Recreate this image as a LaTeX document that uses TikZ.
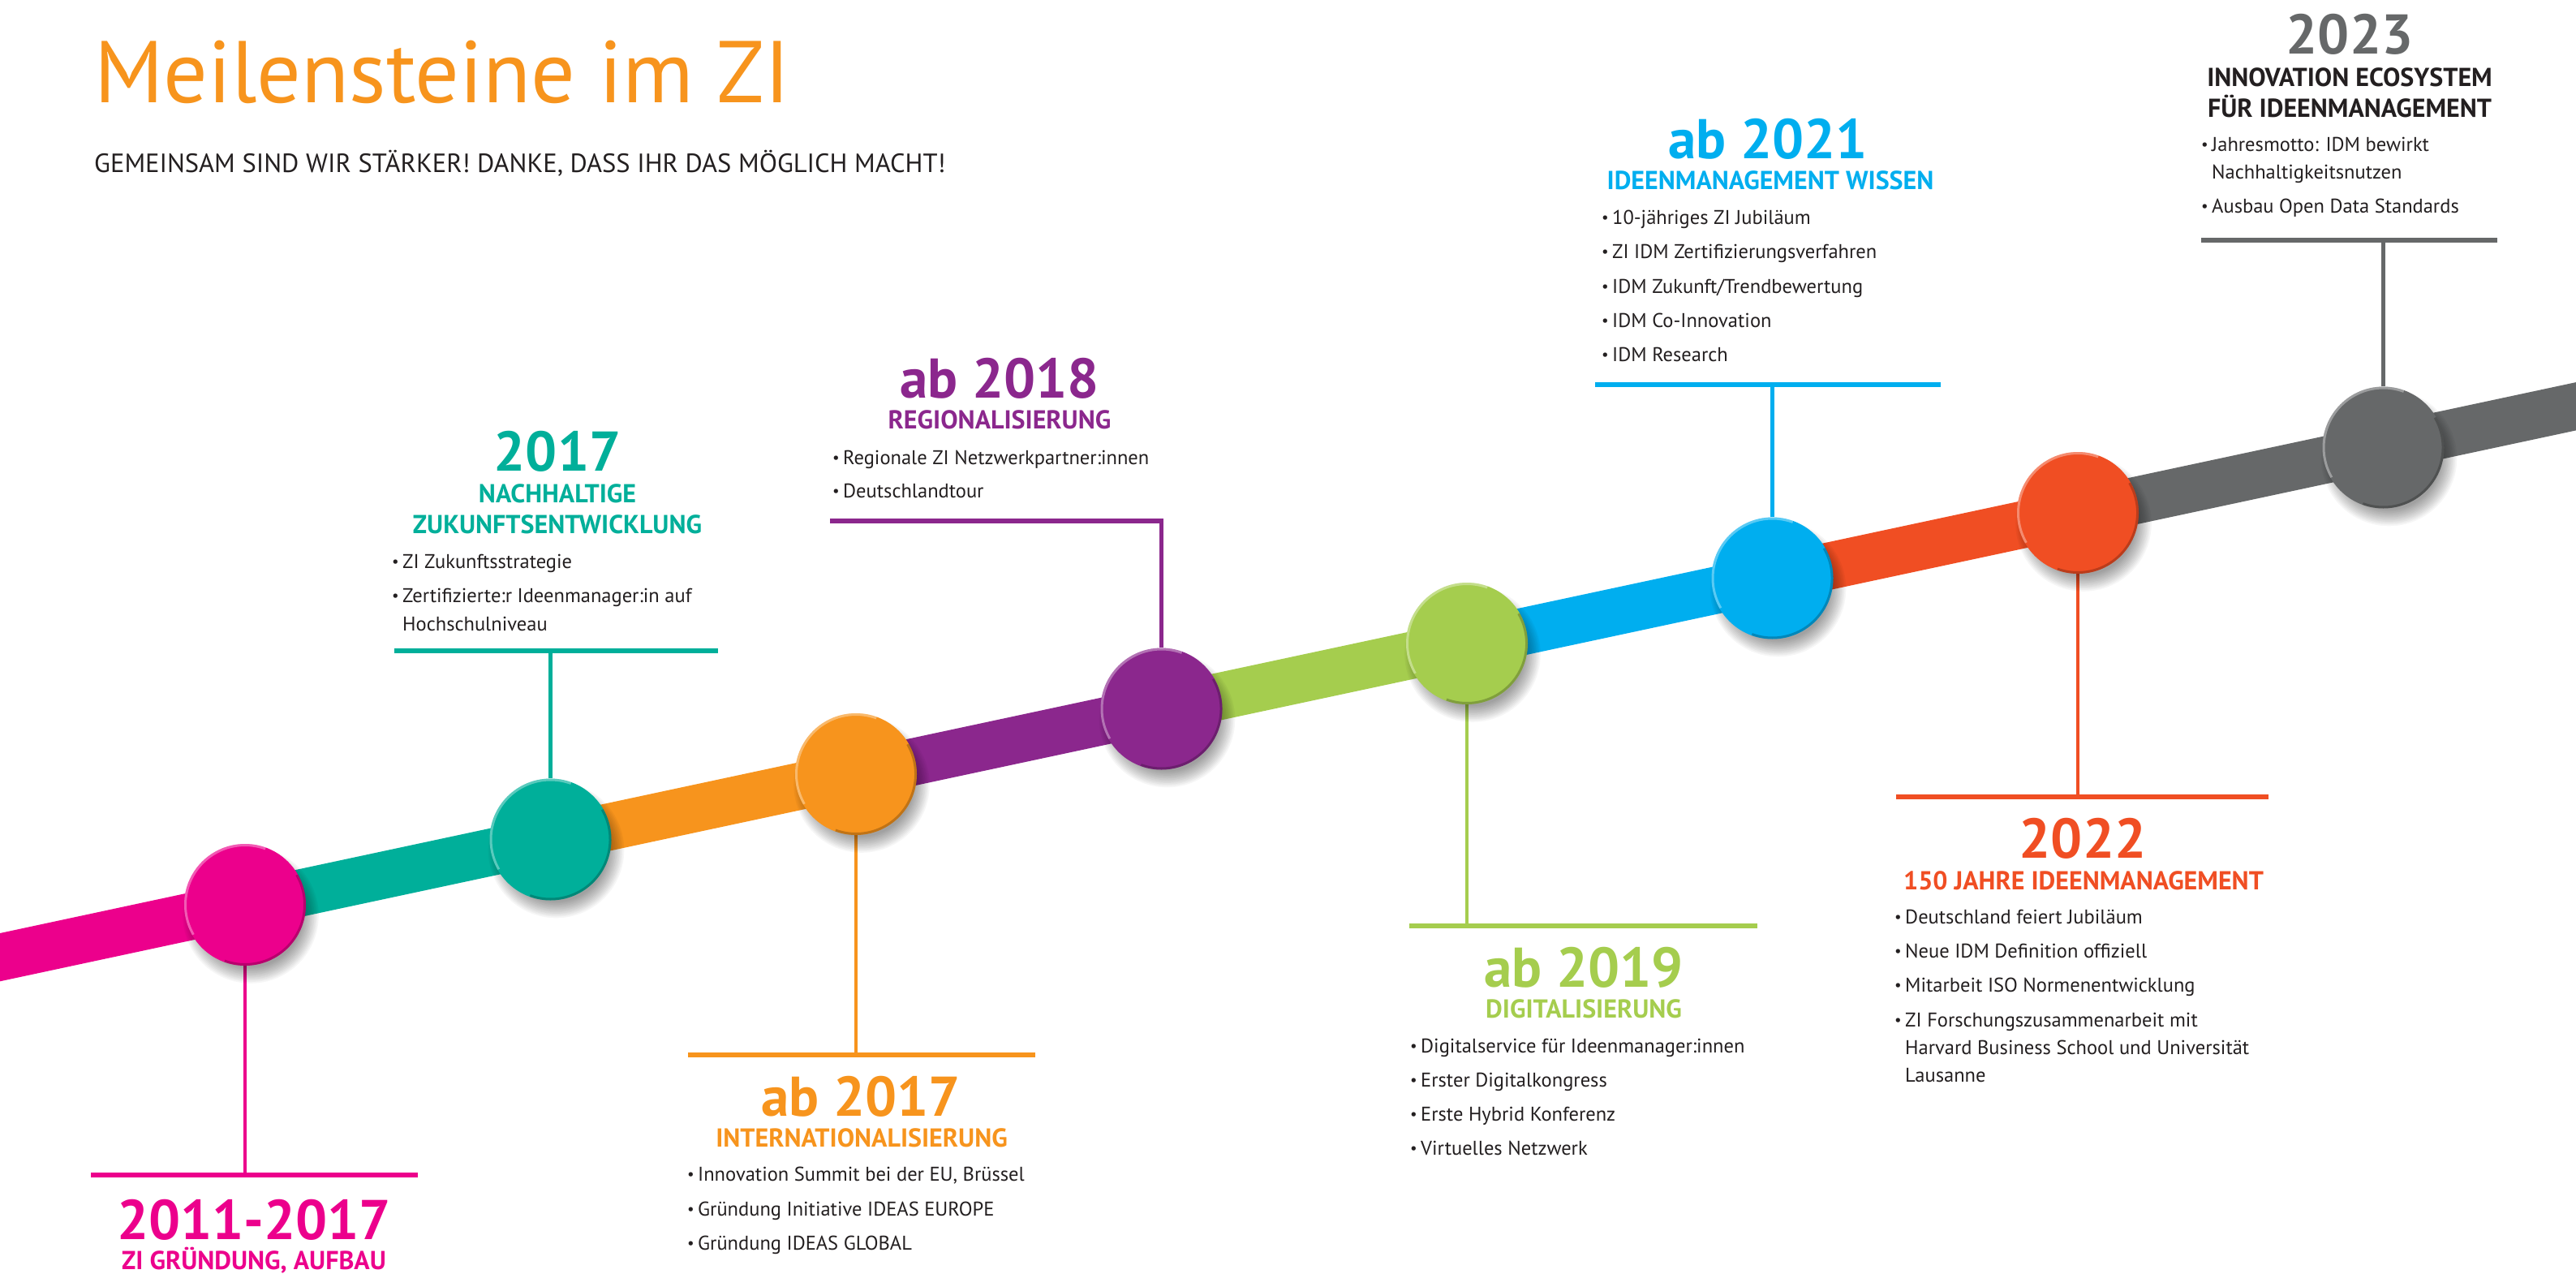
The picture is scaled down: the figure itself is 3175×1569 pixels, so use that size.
\documentclass[tikz,border=0pt]{standalone}
\usepackage{fontspec}
\setmainfont{PT Sans}
\definecolor{cpink}{HTML}{EC008C}
\definecolor{cteal}{HTML}{00AF9A}
\definecolor{corange}{HTML}{F7941D}
\definecolor{cpurple}{HTML}{8B278D}
\definecolor{cgreen}{HTML}{A5CD4E}
\definecolor{cblue}{HTML}{00AEEF}
\definecolor{cred}{HTML}{F04E23}
\definecolor{cgray}{HTML}{666869}
\definecolor{ctxt}{HTML}{231F20}
\newcommand\bodyfs{\fontsize{24.5}{29}\selectfont}
\newcommand\yearfs{\bfseries\fontsize{69}{69}\selectfont}
\newcommand\headfs{\bfseries\fontsize{32}{32}\selectfont}
\newcommand\bul{\makebox[13pt][l]{\fontsize{19}{19}\selectfont\raisebox{1.5pt}{•}}}
\newcommand\cshadow[1]{\foreach \k in {0,...,11}{\fill[black,opacity=0.035] ([shift={(7,13)}]#1) circle[radius={64+1.8*\k}];}}
\newcommand\bevel[1]{%
  \draw[white,opacity=0.35,line width=3] ([shift={(150:73.5)}]#1.center) arc[start angle=150,end angle=290,radius=73.5];
  \draw[black,opacity=0.22,line width=3] ([shift={(-30:73.5)}]#1.center) arc[start angle=-30,end angle=110,radius=73.5];}
\begin{document}
\begin{tikzpicture}[x=1pt,y=-1pt,
  band/.style={line width=58,line cap=butt},
  dot/.style={circle,minimum size=150,inner sep=0,draw=none},
  hconn/.style={line width=5.5},
  vconn/.style={line width=4.5},
  yearf/.style={anchor=base,inner sep=0,font=\yearfs},
  headf/.style={anchor=base,inner sep=0,font=\headfs},
  bodyf/.style={anchor=base west,inner sep=0,font=\bodyfs,text=ctxt}]
\useasboundingbox (0,0) rectangle (3175,1569);
\clip (0,0) rectangle (3175,1569);
\fill[white] (0,0) rectangle (3175,1569);
% circle positions
\coordinate (p1) at (302,1115);
\coordinate (p2) at (678.5,1034.5);
\coordinate (p3) at (1055,954);
\coordinate (p4) at (1431.5,873.5);
\coordinate (p5) at (1808,793);
\coordinate (p6) at (2184.5,712.5);
\coordinate (p7) at (2561,632);
\coordinate (p8) at (2937.5,551.5);
\coordinate (bl) at (-10,1181.8);
\coordinate (br) at (3185,498.6);
% band
\draw[band,cpink] (bl) -- (p1);
\draw[band,cteal] (p1) -- (p2);
\draw[band,corange] (p2) -- (p3);
\draw[band,cpurple] (p3) -- (p4);
\draw[band,cgreen] (p4) -- (p5);
\draw[band,cblue] (p5) -- (p6);
\draw[band,cred] (p6) -- (p7);
\draw[band,cgray] (p7) -- (br);
% connector coordinates
\coordinate (h1a) at (112,1448);  \coordinate (h1b) at (515,1448);
\coordinate (h2a) at (486,802);   \coordinate (h2b) at (885,802);
\coordinate (h3a) at (848,1300);  \coordinate (h3b) at (1276,1300);
\coordinate (h4a) at (1023,642);
\coordinate (h5a) at (1737,1141); \coordinate (h5b) at (2166,1141);
\coordinate (h6a) at (1966,474);  \coordinate (h6b) at (2392,474);
\coordinate (h7a) at (2337,982);  \coordinate (h7b) at (2796,982);
\coordinate (h8a) at (2713,296);  \coordinate (h8b) at (3078,296);
% circles (nodes)
\node[dot] (c1) at (p1) {};
\node[dot] (c2) at (p2) {};
\node[dot] (c3) at (p3) {};
\node[dot] (c4) at (p4) {};
\node[dot] (c5) at (p5) {};
\node[dot] (c6) at (p6) {};
\node[dot] (c7) at (p7) {};
\node[dot] (c8) at (p8) {};
% connectors
\draw[hconn,cpink] (h1a) -- (h1b);
\draw[vconn,cpink] (c1.south) -- (c1.south |- h1a);
\draw[hconn,cteal] (h2a) -- (h2b);
\draw[vconn,cteal] (c2.north) -- (c2.north |- h2a);
\draw[hconn,corange] (h3a) -- (h3b);
\draw[vconn,corange] (c3.south) -- (c3.south |- h3a);
\draw[hconn,cpurple,line join=miter] (h4a) -- (c4.north |- h4a) -- (c4.north);
\draw[hconn,cgreen] (h5a) -- (h5b);
\draw[vconn,cgreen] (c5.south) -- (c5.south |- h5a);
\draw[hconn,cblue] (h6a) -- (h6b);
\draw[vconn,cblue] (c6.north) -- (c6.north |- h6a);
\draw[hconn,cred] (h7a) -- (h7b);
\draw[vconn,cred] (c7.south) -- (c7.south |- h7a);
\draw[hconn,cgray] (h8a) -- (h8b);
\draw[vconn,cgray] (c8.north) -- (c8.north |- h8a);
% shadows and filled circles
\cshadow{p1}\cshadow{p2}\cshadow{p3}\cshadow{p4}\cshadow{p5}\cshadow{p6}\cshadow{p7}\cshadow{p8}
\fill[cpink] (c1) circle[radius=75]; \bevel{c1}
\fill[cteal] (c2) circle[radius=75]; \bevel{c2}
\fill[corange] (c3) circle[radius=75]; \bevel{c3}
\fill[cpurple] (c4) circle[radius=75]; \bevel{c4}
\fill[cgreen] (c5) circle[radius=75]; \bevel{c5}
\fill[cblue] (c6) circle[radius=75]; \bevel{c6}
\fill[cred] (c7) circle[radius=75]; \bevel{c7}
\fill[cgray] (c8) circle[radius=75]; \bevel{c8}
% title
\node[anchor=base west,inner sep=0,text=corange,font=\fontsize{108}{108}\selectfont] (title) at (116,126) {Meilensteine im ZI};
\node[anchor=base west,inner sep=0,text=ctxt,font=\fontsize{32.5}{32.5}\selectfont] (sub) at (116,212) {GEMEINSAM SIND WIR STÄRKER! DANKE, DASS IHR DAS MÖGLICH MACHT!};
% 1 pink
\node[yearf,text=cpink] (y1) at (313,1527) {2011-2017};
\node[headf,text=cpink] (t1) at (313,1564) {ZI GRÜNDUNG, AUFBAU};
% 2 teal
\node[yearf,text=cteal] (y2) at (687,580) {2017};
\node[headf,text=cteal] (t2a) at (687,619) {NACHHALTIGE};
\node[headf,text=cteal] (t2b) at (687,657) {ZUKUNFTSENTWICKLUNG};
\node[bodyf] (b2a) at (483,700) {\bul ZI Zukunftsstrategie};
\node[bodyf] (b2b) at (483,742) {\bul Zertifizierte:r Ideenmanager:in auf};
\node[bodyf] (b2c) at (496,777) {Hochschulniveau};
% 3 orange
\node[yearf,text=corange] (y3) at (1061,1375) {ab 2017};
\node[headf,text=corange] (t3) at (1062,1413) {INTERNATIONALISIERUNG};
\node[bodyf] (b3a) at (847,1455) {\bul Innovation Summit bei der EU, Brüssel};
\node[bodyf] (b3b) at (847,1498) {\bul Gründung Initiative IDEAS EUROPE};
\node[bodyf] (b3c) at (847,1540) {\bul Gründung IDEAS GLOBAL};
% 4 purple
\node[yearf,text=cpurple] (y4) at (1232,490) {ab 2018};
\node[headf,text=cpurple] (t4) at (1232,528) {REGIONALISIERUNG};
\node[bodyf] (b4a) at (1026,572) {\bul Regionale ZI Netzwerkpartner:innen};
\node[bodyf] (b4b) at (1026,613) {\bul Deutschlandtour};
% 5 green
\node[yearf,text=cgreen] (y5) at (1952,1216) {ab 2019};
\node[headf,text=cgreen] (t5) at (1952,1254) {DIGITALISIERUNG};
\node[bodyf] (b5a) at (1738,1297) {\bul Digitalservice für Ideenmanager:innen};
\node[bodyf] (b5b) at (1738,1339) {\bul Erster Digitalkongress};
\node[bodyf] (b5c) at (1738,1381) {\bul Erste Hybrid Konferenz};
\node[bodyf] (b5d) at (1738,1423) {\bul Virtuelles Netzwerk};
% 6 blue
\node[yearf,text=cblue] (y6) at (2179,195) {ab 2021};
\node[headf,text=cblue] (t6) at (2182,233) {IDEENMANAGEMENT WISSEN};
\node[bodyf] (b6a) at (1974,276) {\bul 10-jähriges ZI Jubiläum};
\node[bodyf] (b6b) at (1974,318) {\bul ZI IDM Zertifizierungsverfahren};
\node[bodyf] (b6c) at (1974,361) {\bul IDM Zukunft/Trendbewertung};
\node[bodyf] (b6d) at (1974,403) {\bul IDM Co-Innovation};
\node[bodyf] (b6e) at (1974,445) {\bul IDM Research};
% 7 red
\node[yearf,text=cred] (y7) at (2567,1057) {2022};
\node[headf,text=cred] (t7) at (2568,1096) {150 JAHRE IDEENMANAGEMENT};
\node[bodyf] (b7a) at (2335,1138) {\bul Deutschland feiert Jubiläum};
\node[bodyf] (b7b) at (2335,1180) {\bul Neue IDM Definition offiziell};
\node[bodyf] (b7c) at (2335,1222) {\bul Mitarbeit ISO Normenentwicklung};
\node[bodyf] (b7d) at (2335,1265) {\bul ZI Forschungszusammenarbeit mit};
\node[bodyf] (b7e) at (2348,1299) {Harvard Business School und Universität};
\node[bodyf] (b7f) at (2348,1333) {Lausanne};
% 8 gray
\node[yearf,text=cgray] (y8) at (2896,66) {2023};
\node[headf,text=ctxt] (t8a) at (2896,106) {INNOVATION ECOSYSTEM};
\node[headf,text=ctxt] (t8b) at (2896,144) {FÜR IDEENMANAGEMENT};
\node[bodyf] (b8a) at (2713,186) {\bul Jahresmotto: IDM bewirkt};
\node[bodyf] (b8b) at (2726,220) {Nachhaltigkeitsnutzen};
\node[bodyf] (b8c) at (2713,262) {\bul Ausbau Open Data Standards};
\end{tikzpicture}
\end{document}
